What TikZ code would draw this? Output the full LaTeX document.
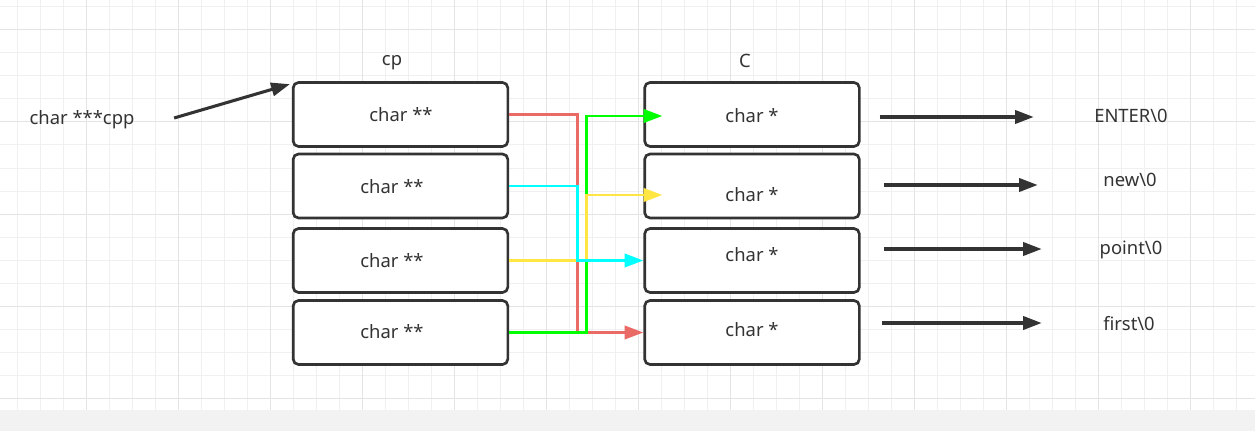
\documentclass[tikz,border=0pt]{standalone}
\usepackage{fontspec}
\setmainfont{Noto Sans}
\usetikzlibrary{arrows.meta, positioning, calc}
\definecolor{inkgray}{HTML}{333333}
\definecolor{gridminor}{HTML}{F0F0F0}
\definecolor{gridmajor}{HTML}{E4E4E4}
\definecolor{bandgray}{HTML}{F2F2F2}
\definecolor{ptrred}{HTML}{EA6B66}
\definecolor{ptrcyan}{HTML}{00FFFF}
\definecolor{ptryellow}{HTML}{FFE642}
\definecolor{ptrgreen}{HTML}{00FF00}

\begin{document}
\begin{tikzpicture}[x=0.75pt, y=-0.75pt,
    every node/.style={font=\fontsize{13.8}{16}\selectfont, text=inkgray},
    cell/.style={draw=inkgray, line width=2pt, rounded corners=4pt, fill=white, minimum width=161pt, minimum height=48pt, inner sep=0pt},
    ptr/.style={-{Triangle[length=14pt, width=10pt]}, line width=2.3pt, inkgray},
    link/.style={-{Triangle[length=14pt, width=10pt]}, line width=2pt}]
      \useasboundingbox (0,0) rectangle (1255,431);

      % Background: grid paper
      \fill[white] (0,0) rectangle (1255,410);
      \fill[bandgray] (0,410) rectangle (1255,431);
      \foreach \x in {17,40,...,1255} \draw[gridminor, line width=0.75pt] (\x,0) -- (\x,410);
      \foreach \y in {7,30,...,410} \draw[gridminor, line width=0.75pt] (0,\y) -- (1255,\y);
      \foreach \x in {86,178,...,1255} \draw[gridmajor, line width=0.75pt] (\x,0) -- (\x,410);
      \foreach \y in {30,122,...,410} \draw[gridmajor, line width=0.75pt] (0,\y) -- (1255,\y);

      % Left: array cp
      \node (cphead) at (392,63) {cp};
      \foreach \i/\y in {1/114.5, 2/186, 3/260.5, 4/332.5} {
        \node[cell] (cp\i) at (400.5,\y) {};
      }
      \node (cpt1) at (401,115) {char **};
      \node (cpt2) at (392,187) {char **};
      \node (cpt3) at (392,261) {char **};
      \node (cpt4) at (392,332) {char **};

      % Right: array C
      \node (chead) at (745,61) {C};
      \foreach \i/\y in {1/114.5, 2/186, 3/260.5, 4/332.5} {
        \node[cell] (c\i) at (752,\y) {};
      }
      \node (ct1) at (752,116) {char *};
      \node (ct2) at (752,195) {char *};
      \node (ct3) at (752,255) {char *};
      \node (ct4) at (752,330) {char *};

      % Pointer to cp
      \node (cpp) at (82,120) {char ***cpp};
      \draw[ptr] ($(cpp.east)+(35,-2)$) -- ($(cp1.north west)+(-2,3)$);

      % Crossed links from cp to C
      \draw[link, ptrred] (cp1.east) -- ++(68,0) |- (c4.west);
      \draw[link, ptrgreen] (cp4.east) -- ++(77,0) |- ($(c1.west)+(19,1.5)$);
      \draw[link, ptryellow] (cp3.east) -- ++(77,0) |- ($(c2.west)+(19,9)$);
      \draw[link, ptrcyan] (cp2.east) -- ++(68,0) |- (c3.west);

      % Strings
      \node (s1) at (1131,116) {ENTER\textbackslash 0};
      \node (s2) at (1130,180) {new\textbackslash 0};
      \node (s3) at (1131,250) {point\textbackslash 0};
      \node (s4) at (1129,324) {first\textbackslash 0};
      \draw[ptr] ($(c1.east)+(19,2.5)$) -- ++(154,0);
      \draw[ptr] ($(c2.east)+(23,-1)$) -- ++(154,0);
      \draw[ptr] ($(c3.east)+(23,-11.5)$) -- ++(158,0);
      \draw[ptr] ($(c4.east)+(21,-9.5)$) -- ++(160,0);
    \end{tikzpicture}
\end{document}
